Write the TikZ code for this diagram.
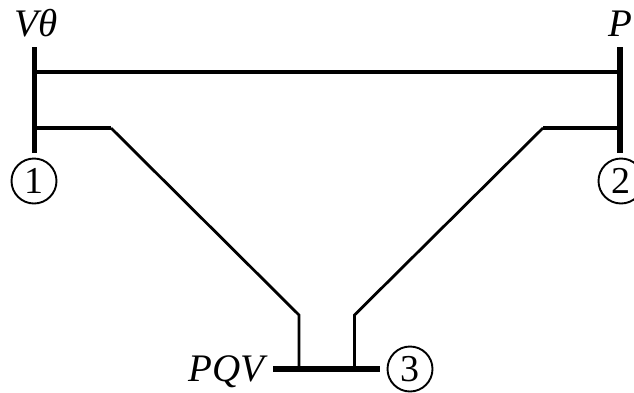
\documentclass[tikz,border=0pt]{standalone}
\usepackage{fontspec}
\setmainfont{Liberation Serif}
\tikzset{
  busbar/.style={fill=black,draw=none,inner sep=0pt,outer sep=0pt,rectangle},
  branch/.style={draw=black,line width=3.2pt,line join=miter},
  branchthin/.style={draw=black,line width=2.8pt,line join=miter},
  numcirc/.style={circle,draw=black,line width=1.9pt,minimum size=45pt,inner sep=0pt,font=\fontsize{38}{38}\selectfont},
  lab/.style={inner sep=0pt,font=\fontsize{39}{39}\selectfont\itshape}
}
\begin{document}
\begin{tikzpicture}[x=1pt,y=-1pt]
\useasboundingbox (0,0) rectangle (634,392);
\node[busbar,minimum width=5pt,minimum height=106pt] (bus1) at (34,100) {};
\node[busbar,minimum width=6pt,minimum height=106pt] (bus2) at (620,100) {};
\node[busbar,minimum width=107pt,minimum height=5.5pt] (bus3) at (326.5,369) {};
\coordinate (a1) at (34,72);
\coordinate (a2) at (620,72);
\coordinate (b1) at (34,128);
\coordinate (b2) at (111,128);
\coordinate (b3) at (299,315);
\coordinate (b4) at (299,369);
\coordinate (c1) at (620,128);
\coordinate (c2) at (543,128);
\coordinate (c3) at (354.5,315);
\coordinate (c4) at (354.5,369);
\draw[branch] (a1) -- (a2);
\draw[branch] (b1) -- (b2);
\draw[branch] (c1) -- (c2);
\draw[branchthin] (b2) -- (b3) -- (b4);
\draw[branchthin] (c2) -- (c3) -- (c4);
\node[numcirc] (n1) at (34,181) {1};
\node[numcirc] (n2) at (621,181) {2};
\node[numcirc] (n3) at (410,369) {3};
\node[lab,anchor=base] (l1) at (36,36) {Vθ};
\node[lab,anchor=base] (l2) at (620,36) {P};
\node[lab,anchor=base] (l3) at (226.5,381) {PQV};
\end{tikzpicture}
\end{document}
